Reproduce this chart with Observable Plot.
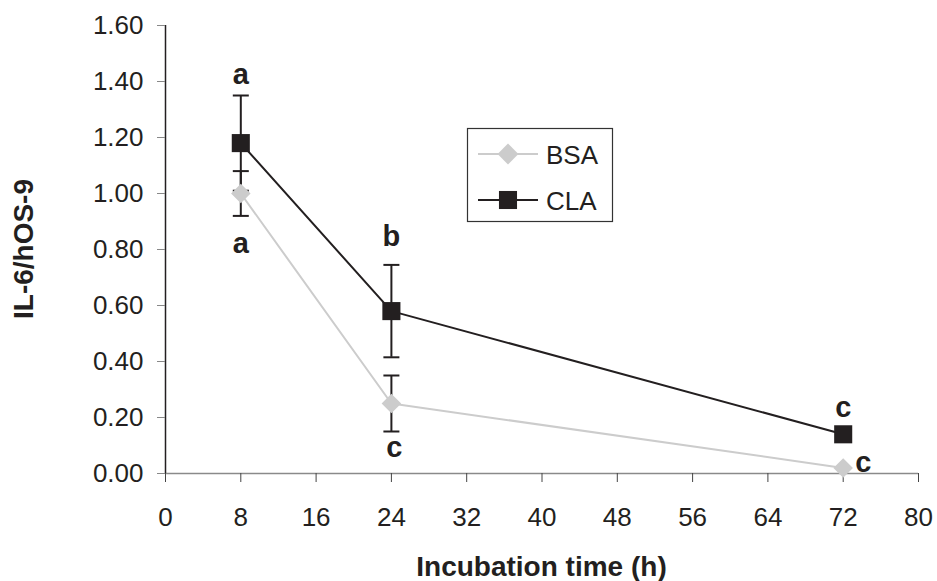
<!DOCTYPE html>
<html>
<head>
<meta charset="utf-8">
<script src="https://cdn.jsdelivr.net/npm/d3@7"></script>
<script src="https://cdn.jsdelivr.net/npm/@observablehq/plot@0.6"></script>
<style>
  html, body { margin: 0; padding: 0; background: #fff; }
  #chart { width: 937px; height: 581px; }
</style>
</head>
<body>
<div id="chart"></div>
<script>
// ---- data ----
const hours = [8, 24, 72];
const bsaValues = [1.00, 0.25, 0.02];
const bsaErrors = [0.08, 0.10, 0];
const claValues = [1.18, 0.58, 0.14];
const claErrors = [0.17, 0.165, 0];
const seriesNames = ["BSA", "CLA"];
const xTicks = [0, 8, 16, 24, 32, 40, 48, 56, 64, 72, 80];
const yTicks = [0, 0.2, 0.4, 0.6, 0.8, 1.0, 1.2, 1.4, 1.6];
const letterHours = [8, 8, 24, 24, 72, 72];
const letterSeries = ["CLA", "BSA", "CLA", "BSA", "CLA", "BSA"];
const letterText = ["a", "a", "b", "c", "c", "c"];
const xTitle = "Incubation time (h)";
const yTitle = "IL-6/hOS-9";

// ---- styling / layout ----
const colors = { BSA: "#cccccc", CLA: "#231f20" };
const font = "'Liberation Sans', Arial, Helvetica, sans-serif";
const letterOffsets = [[0, -68], [0, 50], [0, -74], [3, 44], [0, -27], [20, -5]];

const rows = [];
hours.forEach((h, i) => {
  rows.push({ series: "BSA", x: h, y: bsaValues[i], e: bsaErrors[i] });
  rows.push({ series: "CLA", x: h, y: claValues[i], e: claErrors[i] });
});
const errRows = rows.filter(d => d.e > 0);
const letters = letterText.map((t, i) => {
  const r = rows.find(d => d.series === letterSeries[i] && d.x === letterHours[i]);
  return { x: r.x, y: r.y, t, dx: letterOffsets[i][0], dy: letterOffsets[i][1] };
});

const capSymbol = {
  draw(ctx) { ctx.moveTo(-8, 0); ctx.lineTo(8, 0); }
};

const W = 937, H = 581;
const mL = 165, mR = 19, mT = 25, mB = 108;

const marks = [
  Plot.ruleY([0], { stroke: "#8a8a8a", strokeWidth: 1.5 }),
  Plot.ruleX([0], { stroke: "#231f20", strokeWidth: 1.5 }),
  Plot.axisY({ ticks: yTicks, tickFormat: d => d.toFixed(2), tickSize: 8, tickPadding: 14,
    stroke: "#888", fill: "#231f20", fontSize: 26, fontFamily: font, label: null }),
  Plot.axisX({ ticks: xTicks, tickFormat: d => String(d), tickSize: 9, tickPadding: 25,
    stroke: "#444", fill: "#231f20", fontSize: 26, fontFamily: font, label: null }),
  Plot.line(rows.filter(d => d.series === "BSA"), { x: "x", y: "y", stroke: colors.BSA, strokeWidth: 2 }),
  Plot.line(rows.filter(d => d.series === "CLA"), { x: "x", y: "y", stroke: colors.CLA, strokeWidth: 2 }),
  Plot.ruleX(errRows, { x: "x", y1: d => d.y - d.e, y2: d => d.y + d.e, stroke: "#231f20", strokeWidth: 2 }),
  Plot.dot(errRows, { x: "x", y: d => d.y + d.e, symbol: capSymbol, r: 8, stroke: "#231f20", strokeWidth: 2, fill: "none" }),
  Plot.dot(errRows, { x: "x", y: d => d.y - d.e, symbol: capSymbol, r: 8, stroke: "#231f20", strokeWidth: 2, fill: "none" }),
  Plot.dot(rows.filter(d => d.series === "BSA"), { x: "x", y: "y", symbol: "diamond2", r: 8.8, fill: colors.BSA, stroke: "none" }),
  Plot.dot(rows.filter(d => d.series === "CLA"), { x: "x", y: "y", symbol: "square", r: 10.2, fill: colors.CLA, stroke: "none" })
];

letters.forEach(l => {
  marks.push(Plot.text([l], { x: "x", y: "y", text: "t", dx: l.dx, dy: l.dy, fontSize: 29, fontWeight: "bold",
    fontFamily: font, fill: "#231f20" }));
});

const svgNode = Plot.plot({
  width: W, height: H,
  marginLeft: mL, marginRight: mR, marginTop: mT, marginBottom: mB,
  style: { fontFamily: font, fontSize: "26px", background: "#fff", color: "#231f20", overflow: "visible" },
  x: { domain: [0, 80] },
  y: { domain: [0, 1.6] },
  marks
});
document.getElementById("chart").appendChild(svgNode);

const svg = d3.select(svgNode);
// axis titles
svg.append("text")
  .attr("x", mL + (W - mL - mR) / 2).attr("y", 576)
  .attr("text-anchor", "middle")
  .style("font-family", font).style("font-size", "28px").style("font-weight", "bold")
  .attr("fill", "#231f20").text(xTitle);
svg.append("text")
  .attr("transform", `translate(33,${mT + (H - mT - mB) / 2}) rotate(-90)`)
  .attr("text-anchor", "middle")
  .style("font-family", font).style("font-size", "28px").style("font-weight", "bold")
  .attr("fill", "#231f20").text(yTitle);

// legend
const lg = svg.append("g").attr("text-anchor", "start");
lg.append("rect").attr("x", 467.5).attr("y", 128.5).attr("width", 145).attr("height", 93)
  .attr("fill", "#fff").attr("stroke", "#333").attr("stroke-width", 1.2);
const legendY = { BSA: 154, CLA: 200 };
seriesNames.forEach(s => {
  const yy = legendY[s];
  lg.append("line").attr("x1", 478).attr("x2", 538).attr("y1", yy).attr("y2", yy)
    .attr("stroke", colors[s]).attr("stroke-width", 2);
  const sym = s === "BSA" ? d3.symbolDiamond2 : d3.symbolSquare;
  const r = s === "BSA" ? 9.4 : 10.2;
  lg.append("path").attr("d", d3.symbol(sym, r * r * Math.PI)())
    .attr("transform", `translate(508,${yy})`).attr("fill", colors[s]);
  lg.append("text").attr("x", 546).attr("y", yy + 9.5)
    .attr("text-anchor", "start")
    .style("font-family", font).style("font-size", "26px")
    .attr("fill", "#231f20").text(s);
});
</script>
</body>
</html>
